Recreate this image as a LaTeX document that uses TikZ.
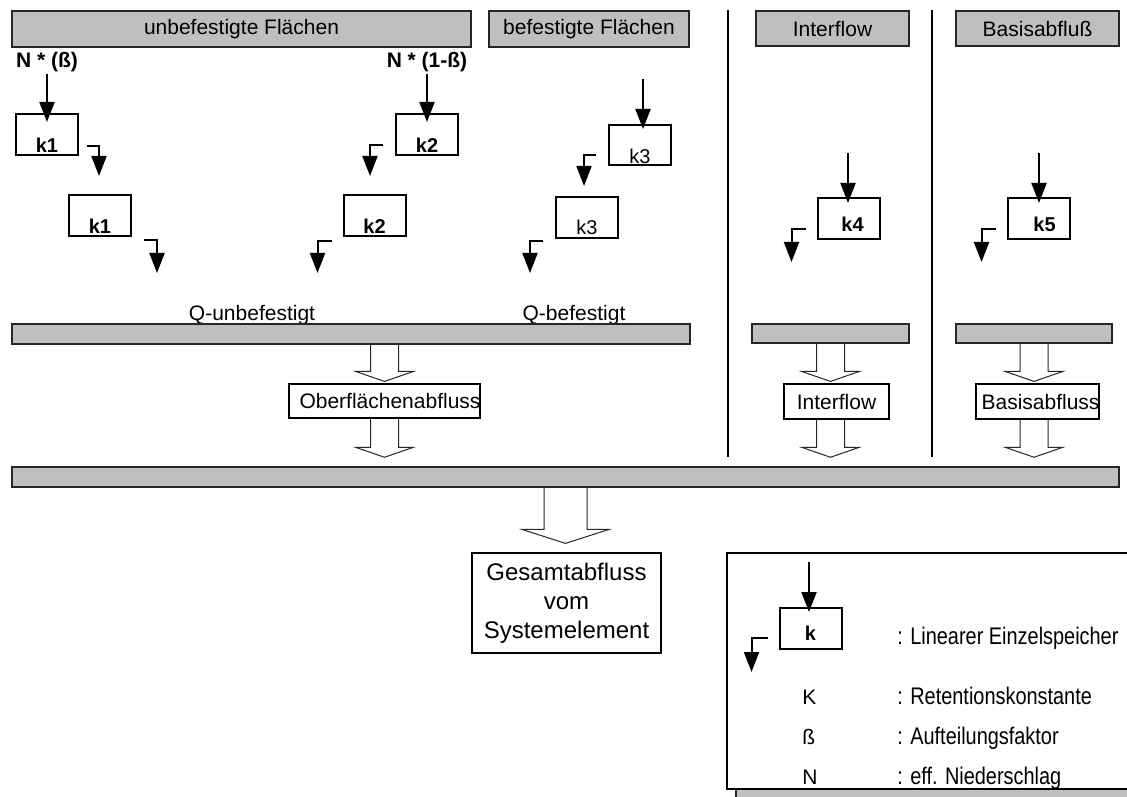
\documentclass[tikz,border=0pt]{standalone}
\usepackage{fontspec}
\setmainfont{Liberation Sans}
\newfontfamily\narrowfont[FakeStretch=0.83]{Liberation Sans}
\usetikzlibrary{arrows.meta,calc}

\newcommand{\klab}[2]{\raisebox{-#1}[0pt][0pt]{#2}}
\newcommand{\blockarrow}[6]{% from, tip point, gap, shaft half width, head half width, head length
  \draw[hollow] let \p1=(#1), \p2=(#2) in
    (\x2-#4,\y1) -- (\x2-#4,\y2+#3+#6) -- (\x2-#5,\y2+#3+#6) -- (\x2,\y2+#3)
    -- (\x2+#5,\y2+#3+#6) -- (\x2+#4,\y2+#3+#6) -- (\x2+#4,\y1);}

\begin{document}
\begin{tikzpicture}[x=0.5pt, y=-0.5pt, font=\fontsize{10.5pt}{12.5pt}\selectfont]
    % Define styles
    \tikzstyle{areabar} = [rectangle, draw=black!85, fill=black!25, line width=0.75pt, inner sep=0pt]
    \tikzstyle{store} = [rectangle, draw, fill=white, line width=1pt, inner sep=0pt, minimum width=31pt, minimum height=20.5pt, font=\fontsize{10pt}{12pt}\selectfont\bfseries]
    \tikzstyle{sumbox} = [rectangle, draw, fill=white, line width=0.6pt, inner sep=0pt, minimum height=17.5pt]
    \tikzstyle{flow} = [line width=1pt, -{Triangle[length=10pt, width=7.5pt]}]
    \tikzstyle{hollow} = [draw=black!85, line width=0.5pt]
    \tikzstyle{divider} = [line width=0.75pt]
    \tikzstyle{nlabel} = [anchor=base, inner sep=0.5pt, font=\fontsize{10.5pt}{12.5pt}\selectfont\bfseries]
    \tikzstyle{legendsym} = [anchor=base west, inner sep=0pt, font=\fontsize{10.5pt}{12.5pt}\selectfont]
    \tikzstyle{legendtext} = [anchor=base west, inner sep=0pt, font=\narrowfont\fontsize{12pt}{14pt}\selectfont]

    \useasboundingbox (0,0) rectangle (1127,796);
    \clip (0,0) rectangle (1127,796);

    % Area headers
    \node[areabar, minimum width=229.5pt, minimum height=18pt] (unbef) at (241.5,29) {unbefestigte Flächen};
    \node[areabar, minimum width=100pt, minimum height=18pt] (bef) at (589,29) {befestigte Flächen};
    \node[areabar, minimum width=76.5pt, minimum height=17.5pt] (interhead) at (832.5,28.5) {Interflow};
    \node[areabar, minimum width=81.5pt, minimum height=17.5pt] (basishead) at (1037.5,28.5) {Basisabfluß};

    % Divider lines
    \draw[divider] (728,10) -- (728,457);
    \draw[divider] (932,10) -- (932,457);

    % Inputs
    \node[nlabel] (nbeta) at (47,68) {N * (ß)};
    \node[nlabel] (nrest) at (427,68) {N * (1-ß)};

    % Storages
    \node[store] (k1a) at (47,134.5) {\klab{9.25pt}{k1}};
    \node[store] (k1b) at (100,215.5) {\klab{9.25pt}{k1}};
    \node[store] (k2a) at (427,134.5) {\klab{9.25pt}{k2}};
    \node[store] (k2b) at (374.5,215.5) {\klab{9.25pt}{k2}};
    \node[store, minimum height=20pt] (k3a) at (640,145) {\klab{9.5pt}{\mdseries k3}};
    \node[store] (k3b) at (587,217.5) {\klab{8.75pt}{\mdseries k3}};
    \node[store] (k4) at (848.5,218.5) {\klab{6.75pt}{\hspace{4pt}k4}};
    \node[store] (k5) at (1038.5,218.5) {\klab{6.75pt}{\hspace{6pt}k5}};

    % Inflow arrows
    \draw[flow, shorten >=-4.5pt] (nbeta.south) -- (k1a.north);
    \draw[flow, shorten >=-4.5pt] (nrest.south) -- (k2a.north);
    \coordinate (in3) at (643,79);
    \draw[flow, shorten >=-2.5pt] (in3) -- (in3 |- k3a.north);
    \coordinate (in4) at (848,153);
    \draw[flow, shorten >=-3pt] (in4) -- (in4 |- k4.north);
    \coordinate (in5) at (1039,153);
    \draw[flow, shorten >=-3pt] (in5) -- (in5 |- k5.north);

    % Outflow arrows
    \draw[flow] ([shift={(8,11.5)}]k1a.east) -| ([shift={(-1,-18)}]k1b.north);
    \draw[flow] ([shift={(12,24.5)}]k1b.east) -| ++(13,33);
    \draw[flow] ([shift={(-12,10.5)}]k2a.west) -| ([shift={(-4.5,-18)}]k2b.north);
    \draw[flow] ([shift={(-11,25.5)}]k2b.west) -| ++(-14,32);
    \draw[flow] ([shift={(-12,10)}]k3a.west) -| ([shift={(-3,-10)}]k3b.north);
    \draw[flow] ([shift={(-12,23.5)}]k3b.west) -| ++(-13,32);
    \draw[flow] ([shift={(-11,10.5)}]k4.west) -| ++(-14,33);
    \draw[flow] ([shift={(-11,10.5)}]k5.west) -| ++(-14,33);

    % Collecting bars
    \node[anchor=base] (qunbef) at (252,321) {Q-unbefestigt};
    \node[anchor=base] (qbef) at (574,321) {Q-befestigt};
    \node[areabar, minimum width=339pt, minimum height=10pt] (qbar) at (351,334) {};
    \node[areabar, minimum width=78.5pt, minimum height=9.5pt] (ibar) at (830.5,333.5) {};
    \node[areabar, minimum width=78pt, minimum height=9.5pt] (bbar) at (1034,333.5) {};
    \node[areabar, minimum width=553.5pt, minimum height=10pt] (total) at (565.5,477) {};

    % Runoff components
    \node[sumbox, minimum width=95.5pt, minimum height=17pt] (oberfl) at (384.5,401) {\makebox[0pt]{\hspace{5.5pt}Oberflächenabfluss}};
    \node[sumbox, minimum width=52.5pt] (inter) at (836.5,401.5) {Interflow};
    \node[sumbox, minimum width=61.5pt] (basis) at (1037.5,401.5) {\makebox[0pt]{\hspace{3pt}Basisabfluss}};
    \node[sumbox, minimum width=94.5pt, minimum height=50pt, align=center, font=\fontsize{12pt}{14.5pt}\selectfont] (gesamt) at (566.5,603) {Gesamtabfluss\\vom\\Systemelement};

    \blockarrow{qbar.south}{oberfl.north}{1pt}{7pt}{14.5pt}{5pt}
    \blockarrow{oberfl.south}{oberfl.south |- total.north}{4.5pt}{7pt}{14.5pt}{5pt}
    \blockarrow{ibar.south}{ibar.south |- inter.north}{1pt}{7pt}{14.5pt}{5pt}
    \blockarrow{inter.south}{ibar.south |- total.north}{4.5pt}{7pt}{14.5pt}{5pt}
    \blockarrow{bbar.south}{bbar.south |- basis.north}{1pt}{7pt}{14.5pt}{5pt}
    \blockarrow{basis.south}{bbar.south |- total.north}{4.5pt}{7pt}{14.5pt}{5pt}
    \blockarrow{total.south}{total.south |- gesamt.north}{4.5pt}{10.75pt}{21.75pt}{7pt}

    % Legend
    \draw[areabar] (736,562) rectangle (1149,805);
    \draw[fill=white, line width=0.6pt] (727,553) rectangle (1140,789);
    \node[store] (kl) at (810.5,628.5) {\klab{5.75pt}{k}};
    \coordinate (inl) at (809,562);
    \draw[flow, shorten >=-2.5pt] (inl) -- (inl |- kl.north);
    \draw[flow] ([shift={(-11,9.5)}]kl.west) -| ++(-16,34);
    \node[legendtext] (dstore) at (897,644) {: Linearer Einzelspeicher};
    \node[legendsym] (symk) at (802,704) {K};
    \node[legendtext] (dk) at (897,704) {: Retentionskonstante};
    \node[legendsym] (symb) at (802,744) {ß};
    \node[legendtext] (db) at (897,744) {: Aufteilungsfaktor};
    \node[legendsym] (symn) at (802,784) {N};
    \node[legendtext] (dn) at (897,784) {: eff. Niederschlag};
\end{tikzpicture}
\end{document}
